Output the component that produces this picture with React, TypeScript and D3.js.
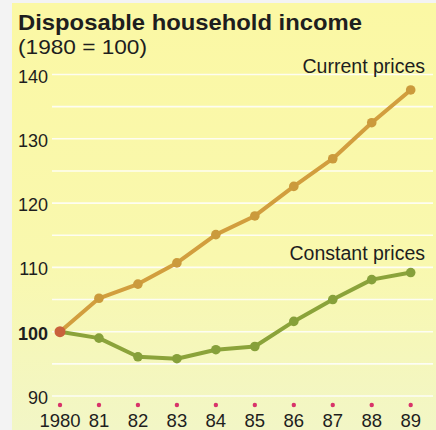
import React from 'react';
import * as d3 from 'd3';

const years = [1980, 1981, 1982, 1983, 1984, 1985, 1986, 1987, 1988, 1989];
const yearLabels = ['1980', '81', '82', '83', '84', '85', '86', '87', '88', '89'];
const currentPrices = [100, 105.2, 107.4, 110.7, 115.1, 118.0, 122.6, 126.9, 132.5, 137.6];
const constantPrices = [100, 99.0, 96.1, 95.8, 97.2, 97.7, 101.6, 105.0, 108.1, 109.2];
const yTicks = [90, 100, 110, 120, 130, 140];
const gridValues = [90, 95, 100, 105, 110, 115, 120, 125, 130, 135, 140];

const W = 436;
const H = 430;
const font = '"Liberation Sans", Arial, Helvetica, sans-serif';

export default function App() {
  const x = d3.scaleLinear().domain([1980, 1989]).range([60, 410.7]);
  const y = d3.scaleLinear().domain([90, 140]).range([396, 74.5]);

  const line = d3
    .line<number>()
    .x((_, i) => x(years[i]))
    .y((d) => y(d));

  return (
    <svg
      width={W}
      height={H}
      style={{ position: 'absolute', left: 0, top: 0 }}
      fontFamily={font}
    >
      <defs>
        <linearGradient id="bg" x1="0" y1="0" x2="0" y2="1">
          <stop offset="0" stopColor="#fbf8a4" />
          <stop offset="0.6" stopColor="#f9f8ae" />
          <stop offset="1" stopColor="#f2f6c6" />
        </linearGradient>
      </defs>
      <rect width={W} height={H} fill="#f3f3f3" />
      <rect x={12} y={3} width={W - 12} height={H - 3} fill="url(#bg)" />

      {/* gridlines */}
      {gridValues.map((v) => (
        <line
          key={v}
          x1={52}
          x2={433}
          y1={y(v)}
          y2={y(v)}
          stroke="#ffffff"
          strokeWidth={1.6}
          opacity={0.85}
        />
      ))}

      {/* titles */}
      <text x={18} y={30} fontSize={22} fontWeight="bold" fill="#1e1e1e" textLength={344} lengthAdjust="spacingAndGlyphs">
        Disposable household income
      </text>
      <text x={18} y={54} fontSize={21} fill="#1e1e1e" textLength={129} lengthAdjust="spacingAndGlyphs">
        (1980 = 100)
      </text>

      {/* y labels */}
      {yTicks.map((v) => (
        <text
          key={v}
          x={48}
          y={y(v) + 8}
          textAnchor="end"
          fontSize={18}
          fontWeight={v === 100 ? 'bold' : 'normal'}
          fill="#1e1e1e"
        >
          {v}
        </text>
      ))}

      {/* x ticks and labels */}
      {years.map((yr, i) => (
        <g key={yr}>
          <circle cx={x(yr)} cy={405} r={2.2} fill="#d8336a" />
          <text x={x(yr)} y={427} textAnchor="middle" fontSize={18.5} fill="#1e1e1e">
            {yearLabels[i]}
          </text>
        </g>
      ))}

      {/* constant prices */}
      <path d={line(constantPrices) || ''} fill="none" stroke="#8ba33a" strokeWidth={4} strokeLinejoin="round" />
      {constantPrices.map((v, i) =>
        i === 0 ? null : (
          <circle key={i} cx={x(years[i])} cy={y(v)} r={4.8} fill="#86a03a" />
        )
      )}

      {/* current prices */}
      <path d={line(currentPrices) || ''} fill="none" stroke="#d29e3e" strokeWidth={4} strokeLinejoin="round" />
      {currentPrices.map((v, i) =>
        i === 0 ? null : (
          <circle key={i} cx={x(years[i])} cy={y(v)} r={4.8} fill="#cb9a3c" />
        )
      )}

      <circle cx={x(1980)} cy={y(100)} r={5.5} fill="#c9613c" />

      <text x={425} y={73} textAnchor="end" fontSize={19.5} fill="#1e1e1e">
        Current prices
      </text>
      <text x={425} y={260} textAnchor="end" fontSize={19.5} fill="#1e1e1e">
        Constant prices
      </text>
    </svg>
  );
}
